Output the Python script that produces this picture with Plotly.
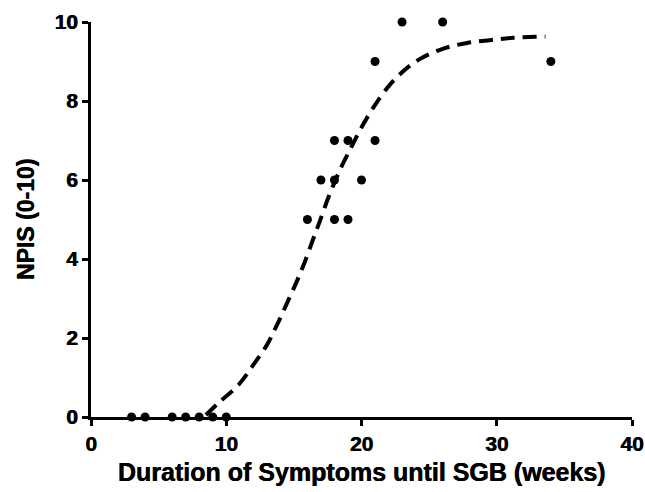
import plotly.graph_objects as go

# observed data points
pts_x = [3, 4, 6, 7, 8, 9, 10, 16, 18, 19, 17, 18, 20, 18, 19, 21, 21, 23, 26, 34]
pts_y = [0, 0, 0, 0, 0, 0, 0, 5, 5, 5, 6, 6, 6, 7, 7, 7, 9, 10, 10, 9]

# fitted curve
fit_x = [8.5, 9.5, 10.9, 12.0, 13.0, 13.75, 14.5, 15.2, 15.8, 16.4, 16.9, 17.6,
         18.4, 19.2, 19.9, 20.85, 21.9, 23.0, 24.3, 26.0, 27.8, 29.5, 31.2, 33.6]
fit_y = [0.05, 0.38, 0.81, 1.32, 1.82, 2.33, 2.89, 3.42, 3.92, 4.48, 4.94, 5.6,
         6.25, 6.8, 7.27, 7.82, 8.33, 8.73, 9.06, 9.32, 9.47, 9.54, 9.6, 9.63]

x_ticks = [0, 10, 20, 30, 40]
y_ticks = [0, 2, 4, 6, 8, 10]

fig = go.Figure()
fig.add_trace(go.Scatter(
    x=fit_x, y=fit_y, mode="lines",
    line=dict(color="black", width=4, dash="14px,8px", shape="spline"),
    cliponaxis=False, showlegend=False, hoverinfo="skip"))
fig.add_trace(go.Scatter(
    x=pts_x, y=pts_y, mode="markers",
    marker=dict(color="black", size=9),
    cliponaxis=False, showlegend=False))

font_family = "Liberation Sans, Arial, sans-serif"
heavy = "0.6px 0px 0px black"
fig.update_layout(
    width=645, height=492,
    margin=dict(l=91, r=13, t=22, b=75, autoexpand=False),
    paper_bgcolor="white", plot_bgcolor="white",
    font=dict(family=font_family, color="black"),
    xaxis=dict(
        range=[0, 40], tickvals=x_ticks, ticktext=[f"<b>{t}</b>" for t in x_ticks],
        ticks="outside", ticklen=6, tickwidth=3,
        tickcolor="black", showline=True, linecolor="black", linewidth=3,
        showgrid=False, zeroline=False, automargin=False,
        tickfont=dict(size=21, weight="bold", shadow=heavy),
        title=dict(text="<b>Duration of Symptoms until SGB (weeks)</b>",
                   font=dict(size=25, weight="bold", shadow=heavy), standoff=10),
    ),
    yaxis=dict(
        range=[0, 10], tickvals=y_ticks, ticktext=[f"<b>{t}</b>" for t in y_ticks],
        ticks="outside", ticklen=6, tickwidth=3,
        tickcolor="black", showline=True, linecolor="black", linewidth=3,
        showgrid=False, zeroline=False, automargin=False,
        tickfont=dict(size=21, weight="bold", shadow=heavy),
        title=dict(text="<b>NPIS (0-10)</b>", font=dict(size=23, weight="bold", shadow=heavy),
                   standoff=14),
    ),
)

fig.write_html("out.html", config={"displayModeBar": False},
               post_script="document.body.style.margin='0';")
